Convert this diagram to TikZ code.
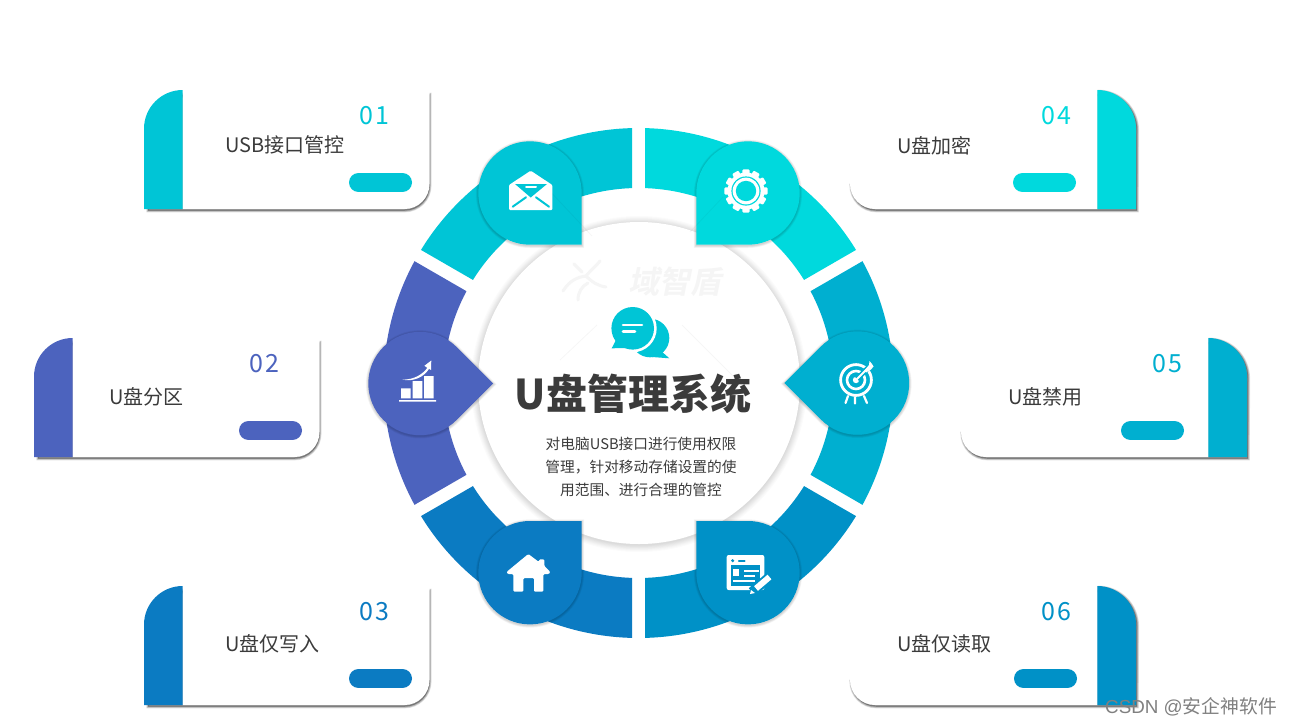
\documentclass[tikz,border=0pt]{standalone}
\usepackage{fontspec}
\setmainfont{Noto Sans CJK SC}
\newfontfamily\markfont[FakeSlant=0.2]{Noto Sans CJK SC Bold}
\newfontfamily\footlatin{Liberation Sans}
\usetikzlibrary{calc}
\definecolor{cA}{HTML}{00C5D6}
\definecolor{cB}{HTML}{4C63BE}
\definecolor{cC}{HTML}{0B7BC2}
\definecolor{cD}{HTML}{00D9DD}
\definecolor{cE}{HTML}{00AFD0}
\definecolor{cF}{HTML}{0091C7}
\definecolor{ink}{HTML}{3B3B3B}
\definecolor{markgray}{HTML}{F5F5F5}
\tikzset{
  cardtext/.style={text=ink,font=\fontsize{20}{24}\selectfont,anchor=west,inner sep=0pt},
  numtext/.style={font=\fontsize{25}{28}\selectfont\addfontfeature{LetterSpace=6},inner sep=0pt},
  bodytext/.style={text=ink,font=\fontsize{14.7}{23.2}\selectfont,align=center,inner sep=0pt},
  titletext/.style={text=ink,font=\bfseries\fontsize{41}{48}\selectfont,inner sep=0pt},
  pill/.style={line cap=round,line width=19pt},
  faintline/.style={black,opacity=.035,line width=.8pt},
  logostroke/.style={markgray,line width=3pt,line cap=round,line join=round},
}
\newcommand{\softpath}[3]{%
  \foreach \w in {1,2,3,4,5}{\draw[black,opacity=.035,line width=\w pt,shift={(#1,#2)}] #3;}
}
\newcommand{\cardshadow}[1]{%
  \fill[black,opacity=.3,shift={(1.2,1.5)}] #1;
  \foreach \w in {0.6,1.4,2.2,3,3.8}{\draw[black,opacity=.09,line width=\w pt,shift={(1.2,1.5)}] #1;}
}
\newcommand{\ringseg}[2]{%
  \fill[#1] ($(638.5,383)+(#2-28.54:255)$) arc[start angle=#2-28.54,end angle=#2+28.54,radius=255]
    -- ($(638.5,383)+(#2+28.09:195)$) arc[start angle=#2+28.09,end angle=#2-28.09,radius=195] -- cycle;
}
\newcommand{\pin}[4]{%
  \begin{scope}[shift={(#2,#3)}]
  \softpath{0}{.8}{(#4:73.1) -- (#4+45:51.7) arc[start angle=#4+45,end angle=#4+315,radius=51.7] -- cycle}
  \fill[#1] (#4:73.1) -- (#4+45:51.7) arc[start angle=#4+45,end angle=#4+315,radius=51.7] -- cycle;
  \end{scope}
}
% colour, x0, y0, number, label, label x, label y
\newcommand{\cardL}[7]{%
  \begin{scope}[shift={(#2,#3)}]
  \cardshadow{(3,116) -- (3,38) -- (38,3) -- (284.5,3) -- (284.5,94) arc[start angle=0,end angle=90,radius=25] -- (3,119) -- cycle}
  \fill[white] (38.7,-3) -- (285.5,-3) -- (285.5,94) arc[start angle=0,end angle=90,radius=25] -- (38.7,119) -- cycle;
  \fill[#1] (0,119) -- (0,38.7) arc[start angle=180,end angle=270,radius=38.7] -- (38.7,119) -- cycle;
  \draw[pill,#1] (214.5,92.5) -- (258.5,92.5);
  \node[numtext,text=#1] (n#4) at (230.5,26) {#4};
  \node[cardtext] (l#4) at (#6,#7) {#5};
  \end{scope}
}
% colour, x0, y0, number, label, pill x, label y
\newcommand{\cardR}[7]{%
  \begin{scope}[shift={(#2,#3)}]
  \cardshadow{(25,119) arc[start angle=90,end angle=180,radius=25] -- (3,94) -- (3,3) -- (247.3,3) -- (247.3,0) arc[start angle=270,end angle=360,radius=38.7] -- (285.7,119) -- cycle}
  \fill[white] (0,-3) -- (247.5,-3) -- (247.5,119) -- (25,119) arc[start angle=90,end angle=180,radius=25] -- cycle;
  \fill[#1] (247.3,0) arc[start angle=270,end angle=360,radius=38.7] -- (286,119) -- (247.3,119) -- cycle;
  \draw[pill,#1] (#6+9.5,92.5) -- (#6+53.5,92.5);
  \node[numtext,text=#1] (n#4) at (206.5,26) {#4};
  \node[cardtext] (l#4) at (47,#7) {#5};
  \end{scope}
}
\begin{document}
\begin{tikzpicture}[x=1pt,y=1pt,yscale=-1]
\useasboundingbox (0,0) rectangle (1291,726);
\fill[white] (0,0) rectangle (1291,726);

% cards
\cardL{cA}{144}{90}{01}{USB接口管控}{81}{55}
\cardL{cB}{34}{338}{02}{U盘分区}{75}{59}
\cardL{cC}{144}{586}{03}{U盘仅写入}{81}{58}
\cardR{cD}{850}{90}{04}{U盘加密}{163}{56}
\cardR{cE}{961}{338}{05}{U盘禁用}{160}{59}
\cardR{cF}{850}{586}{06}{U盘仅读取}{164}{58}

% ring
\ringseg{cA}{240}
\ringseg{cD}{300}
\ringseg{cE}{360}
\ringseg{cF}{60}
\ringseg{cC}{120}
\ringseg{cB}{180}

% centre disc
\foreach \w in {1,2.5,4,5.5,7,8.5,10,12,14}{\draw[black,opacity=.016,line width=\w pt] (639,384) circle[radius=161];}
\fill[white] (639,383) circle[radius=161];

% watermark
\node[text=markgray,font=\markfont\fontsize{31}{34}\selectfont,inner sep=0pt] (mark) at (675,282) {域智盾};
\draw[logostroke] (563,291) .. controls (570,280) and (578,277) .. (586,276) .. controls (591,270) and (597,265) .. (600,261);
\draw[logostroke] (586,276) .. controls (592,282) and (598,286) .. (606,287);
\draw[logostroke] (578,300) .. controls (578,292) and (582,286) .. (588,283);
\draw[logostroke] (574,264) -- (582,272);

% pins
\pin{cA}{530}{193}{45}
\pin{cD}{748}{193}{135}
\pin{cB}{420}{383.5}{0}
\pin{cE}{857.5}{383}{180}
\pin{cC}{530}{572.7}{-45}
\pin{cF}{748}{572.7}{225}

% faint watermark lines
\draw[faintline] (530,170) -- (592,236);
\draw[faintline] (723,197) -- (690,232);
\draw[faintline] (597,325) -- (560,360);
\draw[faintline] (682,325) -- (735,378);

% envelope icon
\fill[white,rounded corners=1pt] (530.7,170.7) -- (552.3,185) -- (552.3,210) -- (509,210) -- (509,185) -- cycle;
\fill[cA] (515,184) -- (547,184) -- (530.7,197.5) -- cycle;
\draw[white,line width=2pt,line cap=round] (526,187.3) -- (536,187.3);
\draw[cA,line width=2pt,line cap=round] (512.7,206.7) -- (526,197.3) (549,206.7) -- (536,197.3);

% gear icon
\begin{scope}[shift={(746,191)}]
\foreach \a in {0,30,...,330}{\fill[white,rotate=\a,rounded corners=1pt] (16,-3.6) rectangle (21.6,3.6);}
\fill[white] (0,0) circle[radius=18.5];
\fill[cD] (0,0) circle[radius=14.6];
\fill[white] (0,0) circle[radius=13.4];
\fill[cD] (0,0) circle[radius=10.2];
\end{scope}

% chart icon
\fill[white] (401,388.3) rectangle (410.7,398.3) (412.7,381) rectangle (422.3,398.3) (424,376) rectangle (433.7,398.3) (399,400) rectangle (436,401.7);
\fill[white] (402,379.6) .. controls (414,380) and (423,374) .. (427.3,367.8) -- (424.4,365.8) -- (431.3,360.5) -- (431,370) -- (429,368.8) .. controls (424,377) and (414,382) .. (402,379.6) -- cycle;

% target icon
\begin{scope}[shift={(856,380)}]
\draw[white,line width=2.8pt] (0,0) circle[radius=15.4];
\draw[white,line width=2.6pt] (0,0) circle[radius=9];
\fill[white] (0,0) circle[radius=3.2];
\draw[cE,line width=5pt] (1,-1) -- (17,-17);
\draw[white,line width=1.8pt] (0,0) -- (12,-12);
\fill[white] (8.5,-9.5) -- (13,-15) -- (13.5,-19) -- (16,-16) -- (17.5,-13.5) -- (15,-10.5) -- (10,-7.5) -- cycle;
\draw[white,line width=2.2pt,line cap=round] (-8,16) -- (-10.5,23) (-1,17) -- (-1,23.5) (8,16) -- (11,23);
\end{scope}

% house icon
\fill[white,rounded corners=1.2pt] (528.3,554) -- (539,562) -- (539,559.3) -- (544.3,559.3) -- (544.3,566) -- (550.5,572) -- (549,574) -- (543.3,574) -- (543.3,591.7) -- (534,591.7) -- (534,578) -- (523.3,578) -- (523.3,591.7) -- (513.3,591.7) -- (513.3,574) -- (507.5,574) -- (506.5,572) -- cycle;

% form icon
\fill[white,rounded corners=2pt] (726.7,555) rectangle (764.3,590);
\fill[cF] (730.7,565) rectangle (760,586);
\fill[cF] (732.7,560.7) circle[radius=1.7];
\draw[cF,line width=2.4pt,line cap=round] (739,560.7) -- (744.5,560.7);
\fill[white] (733.3,569.3) rectangle (739.3,576);
\draw[white,line width=1.8pt] (744,570.7) -- (759.3,570.7) (744,576) -- (755,576) (733.3,580.7) -- (755,580.7);
\draw[cF,line width=10pt] (769,577.5) -- (752,592);
\draw[white,line width=6pt] (769.5,577) -- (756,588.5);
\fill[white] (751,590) -- (755,593) -- (750,594) -- cycle;

% chat icon
\fill[cA] (650,338) circle[radius=19.3];
\fill[cA] (660,350) -- (669.3,358.3) -- (652,357) -- cycle;
\fill[white] (632.7,328.3) circle[radius=24];
\fill[cA] (632.7,328.3) circle[radius=21.3];
\fill[cA] (617,338) -- (611.7,348.3) -- (628,348) -- cycle;
\draw[white,line width=2.6pt,line cap=round] (623,325) -- (642,325) (623,331.7) -- (635,331.7);

% centre text
\node[titletext] (title) at (633,394) {U盘管理系统};
\node[bodytext] (body) at (641,467) {对电脑USB接口进行使用权限\\管理，针对移动存储设置的使\\用范围、进行合理的管控};

% footer
\node[anchor=east,text=black!50,font=\fontsize{18.8}{22}\selectfont,inner sep=0pt] (csdn) at (1277,707) {{\footlatin CSDN @}安企神软件};
\end{tikzpicture}
\end{document}
